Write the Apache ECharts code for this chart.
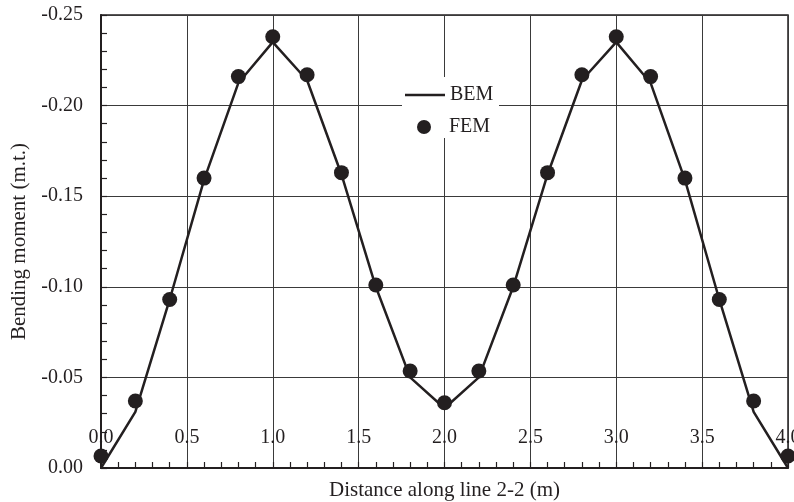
<!DOCTYPE html>
<html>
<head>
<meta charset="utf-8">
<script src="https://cdn.jsdelivr.net/npm/echarts@6/dist/echarts.min.js"></script>
<style>
html,body{margin:0;padding:0;background:#fff;}
#chart{width:794px;height:502px;}
</style>
</head>
<body>
<div id="chart"></div>
<script>
// Distance along line 2-2 (m)
const distances = [0.0, 0.2, 0.4, 0.6, 0.8, 1.0, 1.2, 1.4, 1.6, 1.8, 2.0, 2.2, 2.4, 2.6, 2.8, 3.0, 3.2, 3.4, 3.6, 3.8, 4.0];
// BEM bending moment (m.t.)
const bemValues = [0.000, -0.031, -0.093, -0.159, -0.2125, -0.235, -0.214, -0.162, -0.100, -0.050, -0.033, -0.050, -0.100, -0.162, -0.214, -0.235, -0.2125, -0.159, -0.093, -0.031, 0.000];
// FEM bending moment (m.t.)
const femValues = [-0.0066, -0.037, -0.093, -0.160, -0.216, -0.238, -0.217, -0.163, -0.101, -0.0535, -0.036, -0.0535, -0.101, -0.163, -0.217, -0.238, -0.216, -0.160, -0.093, -0.037, -0.0066];
// Tick settings
const xTicks = {min: 0, max: 4, interval: 0.5};
const yTicks = {min: -0.25, max: 0, interval: 0.05};

const ink = '#231f20';
const font = '"Liberation Serif", "Times New Roman", serif';

const chart = echarts.init(document.getElementById('chart'), null, {renderer: 'canvas'});
chart.setOption({
  animation: false,
  backgroundColor: '#fff',
  textStyle: {fontFamily: font, color: ink},
  grid: {
    left: 101, right: 6, top: 15, bottom: 34,
    outerBoundsMode: 'none',
    containLabel: false,
    show: true, borderColor: ink, borderWidth: 1.5, backgroundColor: 'transparent'
  },
  graphic: [{
    type: 'rect', left: 402, top: 77, z: 3,
    shape: {width: 97, height: 61},
    style: {fill: '#fff'}
  }],
  legend: [
    {
      left: 405, top: 85, padding: 0, z: 5,
      itemWidth: 40, itemHeight: 2.5, itemGap: 0,
      icon: 'rect',
      textStyle: {fontFamily: font, fontSize: 20, lineHeight: 20, color: ink},
      data: [{name: 'BEM', itemStyle: {color: ink}}]
    },
    {
      left: 417, top: 117, padding: 0, z: 5,
      itemWidth: 14, itemHeight: 14, itemGap: 0,
      icon: 'circle',
      textStyle: {fontFamily: font, fontSize: 20, lineHeight: 20, color: ink, padding: [0, 0, 0, 13]},
      data: [{name: 'FEM', itemStyle: {color: ink}}]
    }
  ],
  xAxis: {
    type: 'value',
    min: xTicks.min, max: xTicks.max, interval: xTicks.interval,
    name: 'Distance along line 2-2 (m)',
    nameLocation: 'middle', nameGap: 12,
    nameTextStyle: {fontFamily: font, fontSize: 21, color: ink},
    axisLine: {show: true, onZero: false, lineStyle: {color: ink, width: 2}},
    axisTick: {show: true, inside: true, length: 6, lineStyle: {color: ink, width: 1.2}},
    minorTick: {show: true, splitNumber: 5, length: 6, lineStyle: {color: ink, width: 1.2}},
    axisLabel: {
      inside: true, margin: 20, fontFamily: font, fontSize: 20, color: ink,
      showMaxLabel: true, showMinLabel: true,
      formatter: v => v.toFixed(1)
    },
    splitLine: {show: true, lineStyle: {color: '#3a3a3a', width: 1}}
  },
  yAxis: {
    type: 'value',
    inverse: true,
    min: yTicks.min, max: yTicks.max, interval: yTicks.interval,
    name: 'Bending moment (m.t.)',
    nameLocation: 'middle', nameGap: 68,
    nameTextStyle: {fontFamily: font, fontSize: 21, color: ink},
    axisLine: {show: true, onZero: false, lineStyle: {color: ink, width: 2}},
    axisTick: {show: true, inside: true, length: 6, lineStyle: {color: ink, width: 1.2}},
    minorTick: {show: true, splitNumber: 5, length: 6, lineStyle: {color: ink, width: 1.2}},
    axisLabel: {
      margin: 18, fontFamily: font, fontSize: 20, color: ink,
      formatter: v => (Math.abs(v) < 1e-9 ? '0.00' : v.toFixed(2))
    },
    splitLine: {show: true, lineStyle: {color: '#3a3a3a', width: 1}}
  },
  series: [
    {
      name: 'BEM',
      type: 'line',
      data: distances.map((d, i) => [d, bemValues[i]]),
      symbol: 'none',
      showSymbol: false,
      lineStyle: {color: ink, width: 2.5},
      itemStyle: {color: ink},
      clip: false,
      z: 3
    },
    {
      name: 'FEM',
      type: 'scatter',
      data: distances.map((d, i) => [d, femValues[i]]),
      symbol: 'circle',
      symbolSize: 15,
      itemStyle: {color: ink, opacity: 1},
      clip: false,
      z: 4
    }
  ]
});
</script>
</body>
</html>
